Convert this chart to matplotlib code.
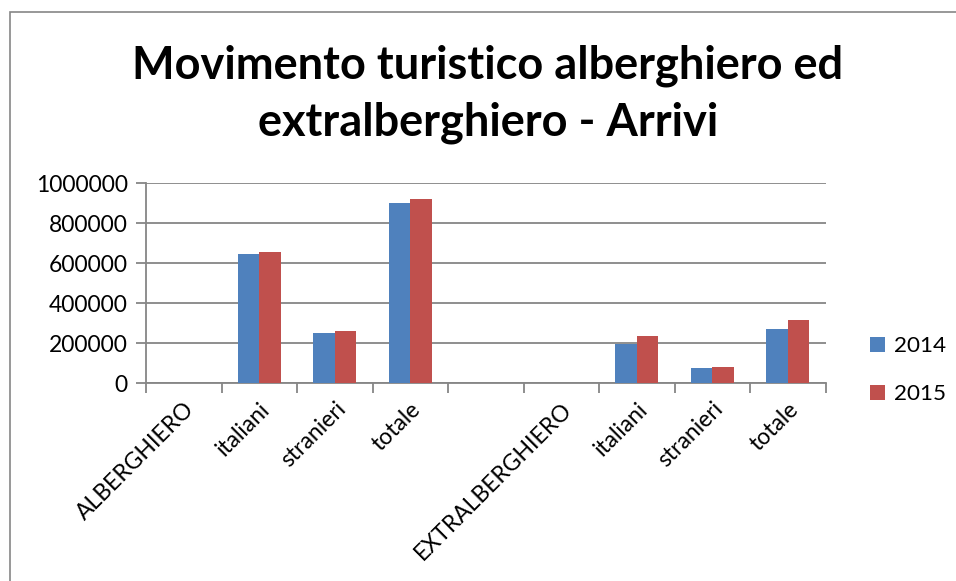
import matplotlib
matplotlib.use("Agg")
import matplotlib.pyplot as plt
import numpy as np
from matplotlib.patches import Rectangle
from matplotlib.ticker import FixedLocator

categories = ["ALBERGHIERO", "italiani", "stranieri", "totale", "",
              "EXTRALBERGHIERO", "italiani", "stranieri", "totale"]
series_2014 = [0, 647000, 252000, 902000, 0, 0, 194000, 73000, 270000]
series_2015 = [0, 655000, 261000, 918000, 0, 0, 234000, 78000, 314000]
years = ["2014", "2015"]
yticks = [0, 200000, 400000, 600000, 800000, 1000000]

plt.rcParams['font.family'] = ['Lato', 'DejaVu Sans']

W, H = 956, 581
fig = plt.figure(figsize=(W/100, H/100), dpi=100)

# outer chart frame
fig.patches.append(Rectangle((10/W, -0.05), 1.2, 1 - 12/H + 0.05,
                             transform=fig.transFigure, fill=False,
                             edgecolor='#868686', linewidth=1.2))

ax = fig.add_axes([146/W, 1 - 383/H, (825.5-146)/W, 200/H])

x = np.arange(len(categories))
bw = 0.287
ax.bar(x - bw/2, series_2014, bw, color='#4F81BD', label=years[0], zorder=3)
ax.bar(x + bw/2, series_2015, bw, color='#C0504D', label=years[1], zorder=3)

ax.set_xlim(-0.5, len(categories) - 0.5)
ax.set_ylim(0, 1000000)
ax.set_yticks(yticks)
ax.set_yticklabels([str(v) for v in yticks], fontsize=16.5, color='#000000')
ax.yaxis.grid(True, color='#868686', linewidth=1.3, zorder=0)
ax.set_axisbelow(True)

ax.set_xticks(x)
ax.set_xticklabels(categories, rotation=45, ha='right', rotation_mode='anchor',
                   fontsize=16.5)
ax.tick_params(axis='x', length=0, pad=11)
ax.xaxis.set_minor_locator(FixedLocator(np.arange(-0.5, len(categories), 1.0)))
ax.tick_params(axis='x', which='minor', length=7, color='#868686', width=1.3, direction='out')
ax.tick_params(axis='y', length=7, color='#868686', width=1.3, direction='out', pad=6)

for s in ['top', 'right']:
    ax.spines[s].set_visible(False)
for s in ['left', 'bottom']:
    ax.spines[s].set_color('#868686')
    ax.spines[s].set_linewidth(1.3)

fig.text(488/W, 1 - 94/H, "Movimento turistico alberghiero ed\nextralberghiero - Arrivi",
         ha='center', va='center', fontsize=32.5, fontweight='bold', linespacing=1.42)

leg = ax.legend(loc='center left', bbox_to_anchor=(850/W, 1 - 370/H),
                bbox_transform=fig.transFigure, frameon=False, fontsize=16.2,
                handlelength=0.65, handleheight=0.65, labelspacing=1.25, handletextpad=0.4)

fig.savefig("out.png", dpi=100)
